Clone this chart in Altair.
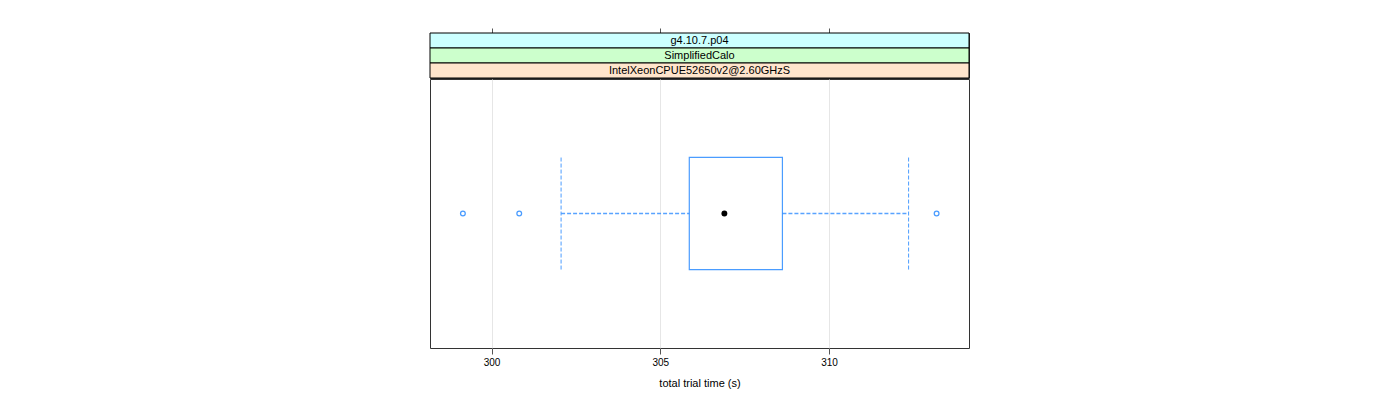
import altair as alt
import pandas as pd

# ---- data ----
group = ["IntelXeonCPUE52650v2@2.60GHzS"]
whisker_low = [302.06]
q1 = [305.86]
median = [306.90]
q3 = [308.62]
whisker_high = [312.36]
outliers = [299.15, 300.82, 313.19]
strip_labels = ["g4.10.7.p04", "SimplifiedCalo", "IntelXeonCPUE52650v2@2.60GHzS"]
strip_colors = ["#ccffff", "#ccffcc", "#ffe5cc"]
x_ticks = [300, 305, 310]
x_domain = [298.175, 314.15]

BLUE = "#4a9cff"
HALF = 0.25  # half box width in level units (lattice default box.ratio)

stats = pd.DataFrame({
    "group": group,
    "wlo": whisker_low, "q1": q1, "med": median, "q3": q3, "whi": whisker_high,
})
stats["pos"] = range(1, len(stats) + 1)
stats["lo"] = stats["pos"] - HALF
stats["hi"] = stats["pos"] + HALF

out_df = pd.DataFrame({"value": outliers, "pos": [1] * len(outliers)})

xscale = alt.Scale(domain=x_domain, nice=False, zero=False)
yscale = alt.Scale(domain=[0.4, 1.6], nice=False, zero=False)

W, H = 539, 269

xaxis = alt.Axis(values=x_ticks, title="total trial time (s)", grid=True,
                 gridColor="#e6e6e6", domain=False, tickColor="#555",
                 tickSize=6, labelFontSize=10, labelColor="#000",
                 titleFontSize=11, titleFontWeight="normal", titleColor="#000",
                 titlePadding=10, labelPadding=3, format="d")

base = alt.Chart(stats)
vdash = dict(stroke=BLUE, strokeDash=[4, 2], strokeWidth=1)
hdash = dict(stroke="#2f8cff", strokeDash=[4, 2], strokeWidth=1.5, opacity=0.8)

box = base.mark_rect(fill="white", stroke=BLUE, strokeWidth=1.2).encode(
    x=alt.X("q1:Q", scale=xscale, axis=xaxis),
    x2="q3:Q",
    y=alt.Y("lo:Q", scale=yscale, axis=None),
    y2="hi:Q",
)
wl = base.mark_rule(**hdash).encode(x="wlo:Q", x2="q1:Q", y="pos:Q")
wh = base.mark_rule(**hdash).encode(x="q3:Q", x2="whi:Q", y="pos:Q")
cl = base.mark_rule(**vdash).encode(x="wlo:Q", y="lo:Q", y2="hi:Q")
ch = base.mark_rule(**vdash).encode(x="whi:Q", y="lo:Q", y2="hi:Q")
med = base.mark_point(filled=True, color="black", size=35, opacity=1).encode(
    x="med:Q", y="pos:Q")
outs = alt.Chart(out_df).mark_point(filled=False, color=BLUE, size=22,
                                    strokeWidth=1.3, opacity=1).encode(
    x=alt.X("value:Q", scale=xscale), y=alt.Y("pos:Q", scale=yscale))

main = alt.layer(box, wl, wh, cl, ch, outs, med).properties(width=W, height=H)

strip_df = pd.DataFrame({"label": strip_labels, "color": strip_colors})
strip_df["xmin"] = x_domain[0]
strip_df["xmax"] = x_domain[1]
strip_df["xmid"] = (x_domain[0] + x_domain[1]) / 2

sbase = alt.Chart(strip_df)
srect = sbase.mark_rect(stroke="black", strokeWidth=1).encode(
    x=alt.X("xmin:Q", scale=xscale,
            axis=alt.Axis(orient="top", values=x_ticks, labels=False, title=None,
                          domain=False, grid=False, tickSize=5, tickColor="#555")),
    x2="xmax:Q",
    y=alt.Y("label:N", sort=strip_labels, axis=None,
            scale=alt.Scale(paddingInner=0, paddingOuter=0)),
    color=alt.Color("color:N", scale=None),
)
stext = sbase.mark_text(fontSize=11, color="black", baseline="middle").encode(
    x=alt.X("xmid:Q", scale=xscale),
    y=alt.Y("label:N", sort=strip_labels),
    text="label:N",
)
strips = alt.layer(srect, stext).properties(width=W, height=45)

chart = alt.vconcat(strips, main, spacing=-1).properties(
    padding={"left": 421, "top": 19, "right": 10, "bottom": 5}
).configure(font="Liberation Sans").configure_view(stroke="#333", strokeWidth=1)

chart.save("out.html", embed_options={"renderer": "svg", "actions": False})
